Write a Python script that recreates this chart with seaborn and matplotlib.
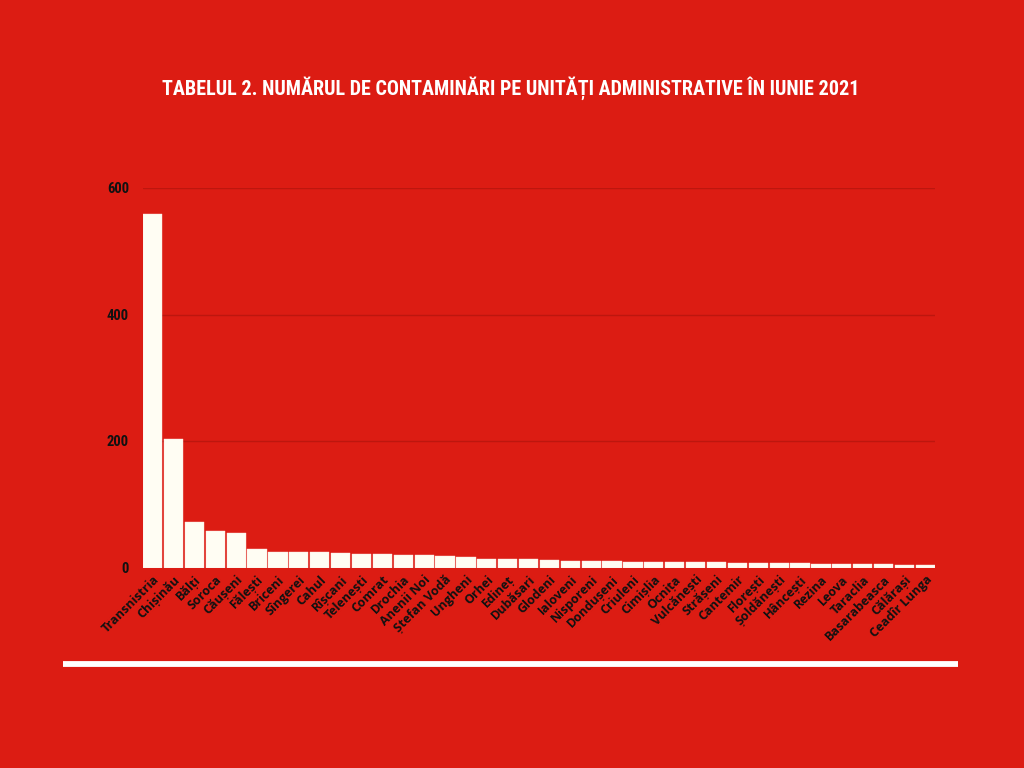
import matplotlib
matplotlib.use("Agg")
import matplotlib.pyplot as plt
import seaborn as sns
import pandas as pd
from matplotlib.lines import Line2D

districts = ["Transnistria", "Chișinău", "Bălți", "Soroca", "Căușeni", "Fălești",
             "Briceni", "Sîngerei", "Cahul", "Rîșcani", "Telenești", "Comrat",
             "Drochia", "Anenii Noi", "Ștefan Vodă", "Ungheni", "Orhei", "Edineț",
             "Dubăsari", "Glodeni", "Ialoveni", "Nisporeni", "Dondușeni", "Criuleni",
             "Cimișlia", "Ocnița", "Vulcănești", "Strășeni", "Cantemir", "Florești",
             "Șoldănești", "Hâncești", "Rezina", "Leova", "Taraclia", "Basarabeasca",
             "Călărași", "Ceadîr Lunga"]
cases = [559, 203, 72, 58, 55, 29, 25, 25, 24, 23, 21, 21, 20, 20, 18, 16, 14, 14,
         14, 12, 11, 10, 10, 9, 9, 8, 8, 8, 7, 7, 7, 7, 6, 6, 6, 5, 4, 4]
y_ticks = [0, 200, 400, 600]
title = "TABELUL 2. NUMĂRUL DE CONTAMINĂRI PE UNITĂȚI ADMINISTRATIVE ÎN IUNIE 2021"

BG = "#DC1C13"
GRID = "#BD160E"
BAR = "#FFFDF3"

sns.set_theme(style="white")
plt.rcParams["font.family"] = ["Open Sans", "DejaVu Sans"]

df = pd.DataFrame({"district": districts, "cases": cases})

fig = plt.figure(figsize=(10.24, 7.68), dpi=100, facecolor=BG)
ax = fig.add_axes([143 / 1024, 1 - 567.5 / 768, (935 - 143) / 1024, (567.5 - 188) / 768])
ax.set_facecolor(BG)

W = 0.92
sns.barplot(data=df, x="district", y="cases", color=BAR, width=W,
            saturation=1, edgecolor="#FBE3DE", linewidth=0.3, ax=ax, zorder=3)

ax.set_xlim(-0.5 + (1 - W) / 2, len(districts) - 0.5 - (1 - W) / 2)
ax.set_ylim(0, 600)
ax.set_yticks(y_ticks)
ax.set_yticklabels([str(v) for v in y_ticks], fontsize=10.5, fontweight="bold",
                   color="#111111", stretch="condensed",
                   family=["Roboto Condensed", "DejaVu Sans"])
ax.yaxis.grid(True, color=GRID, linewidth=1.0, zorder=0)
ax.xaxis.grid(False)
ax.tick_params(axis="y", length=0, pad=10)
ax.tick_params(axis="x", length=0, pad=4)
ax.set_xticks(range(len(districts)))
ax.set_xticklabels(districts, rotation=45, ha="right", rotation_mode="anchor",
                   fontsize=9, fontweight="bold", color="#111111")
ax.set_xlabel("")
ax.set_ylabel("")
for s in ax.spines.values():
    s.set_visible(False)

fig.text(511 / 1024, 1 - 88 / 768, title, ha="center", va="center", color="white",
         fontsize=14.5, fontweight="bold", stretch="condensed",
         family=["Roboto Condensed", "Liberation Sans Narrow", "DejaVu Sans"])

fig.add_artist(Line2D([63 / 1024, 958 / 1024], [1 - 664 / 768, 1 - 664 / 768],
                      transform=fig.transFigure, color="white", linewidth=4.2,
                      solid_capstyle="butt"))

fig.savefig("out.png", dpi=100, facecolor=BG)
